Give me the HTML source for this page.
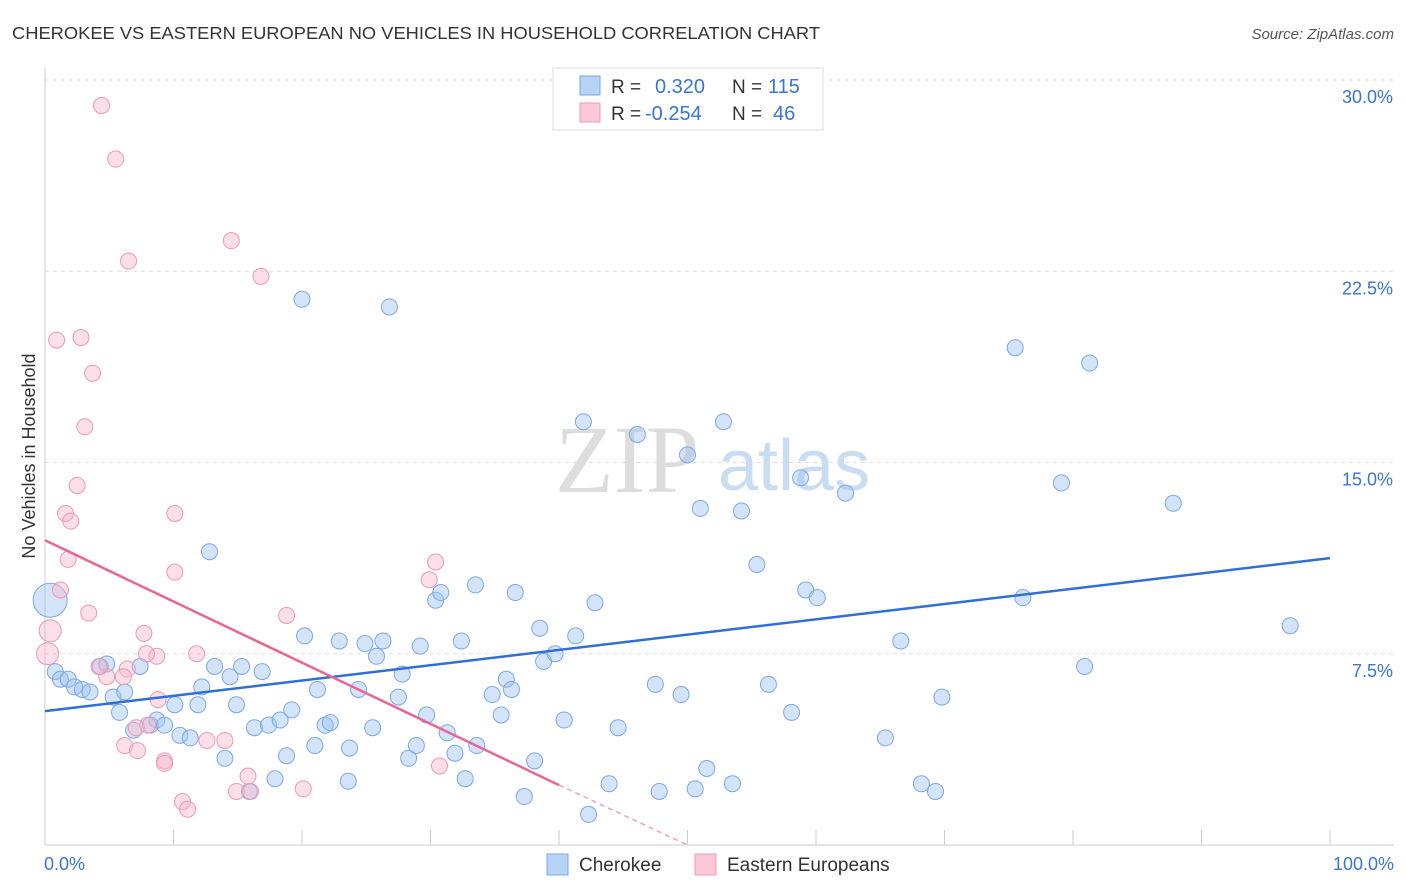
<!DOCTYPE html>
<html><head><meta charset="utf-8"><style>
body{margin:0;background:#fff;font-family:"Liberation Sans",sans-serif;}
svg{display:block}
</style></head><body>
<svg id="chart" width="1406" height="892" xmlns="http://www.w3.org/2000/svg">
<text x="12" y="39" font-size="17.5" fill="#333" textLength="808" lengthAdjust="spacingAndGlyphs">CHEROKEE VS EASTERN EUROPEAN NO VEHICLES IN HOUSEHOLD CORRELATION CHART</text>
<text x="1394" y="39" font-size="15" fill="#555" font-style="italic" text-anchor="end">Source: ZipAtlas.com</text>
<text x="35" y="456" font-size="18" fill="#333" text-anchor="middle" transform="rotate(-90 35 456)">No Vehicles in Household</text>
<text x="555" y="492" font-size="96" fill="#ddd" font-family="Liberation Serif">ZIP</text>
<text x="718" y="490" font-size="72" fill="#c8dcf4">atlas</text>
<g id="grid"></g><g id="pts"></g><g id="lines"></g>
<g>
<rect x="553" y="68" width="270" height="62" fill="#fff" stroke="#ddd"/>
<rect x="580" y="76" width="20" height="19" fill="#b8d4f5" stroke="#7aa8e6"/>
<rect x="580" y="103" width="20" height="19" fill="#fcc8d8" stroke="#f09ab8"/>
<text x="611" y="93" font-size="19" fill="#333">R = </text><text x="655" y="93" font-size="20" fill="#3a74d6">0.320</text>
<text x="732" y="93" font-size="19" fill="#333">N = </text><text x="768" y="93" font-size="20" fill="#3a74d6">115</text>
<text x="611" y="120" font-size="19" fill="#333">R = </text><text x="645" y="120" font-size="20" fill="#3a74d6">-0.254</text>
<text x="732" y="120" font-size="19" fill="#333">N = </text><text x="773" y="120" font-size="20" fill="#3a74d6">46</text>
</g>
<g>
<rect x="547" y="854" width="21" height="21" fill="#b8d4f5" stroke="#7aa8e6"/>
<text x="579" y="871" font-size="19" fill="#333">Cherokee</text>
<rect x="695" y="854" width="21" height="21" fill="#fcc8d8" stroke="#f09ab8"/>
<text x="727" y="871" font-size="19" fill="#333">Eastern Europeans</text>
</g>
<text x="44" y="870" font-size="18" fill="#3a74d6">0.0%</text>
<text x="1394" y="870" font-size="18" fill="#3a74d6" text-anchor="end">100.0%</text>
</svg>
<script>
const yTicks=[7.5,15,22.5,30];
const blueX=[0.8,1.2,1.8,2.3,2.9,3.5,4.3,4.8,5.3,5.8,6.2,7.4,6.9,8.2,8.7,9.3,10.1,10.5,11.3,11.9,12.2,12.8,13.2,14.0,14.4,14.9,15.3,15.9,16.3,16.9,17.4,17.9,18.3,18.8,19.2,20.0,20.2,21.0,21.2,21.8,22.2,22.9,23.6,23.7,24.4,24.9,25.5,25.8,26.3,26.8,27.5,27.8,28.3,28.9,29.2,29.7,30.4,30.8,31.3,31.9,32.4,32.7,33.5,33.6,34.8,35.5,35.9,36.3,36.6,37.3,38.1,38.5,38.8,39.7,40.4,41.3,41.9,42.3,42.8,43.9,44.6,46.1,47.5,47.8,49.5,50.0,50.6,51.0,51.5,52.8,53.5,54.2,55.4,56.3,58.1,58.8,59.2,60.1,62.3,65.4,66.6,68.2,69.3,69.8,75.5,76.1,79.1,80.9,81.3,87.8,96.9,0.4];
const blueY=[6.8,6.5,6.5,6.2,6.1,6.0,7.0,7.1,5.8,5.2,6.0,7.0,4.5,4.7,4.9,4.7,5.5,4.3,4.2,5.5,6.2,11.5,7.0,3.4,6.6,5.5,7.0,2.1,4.6,6.8,4.7,2.6,4.9,3.5,5.3,21.4,8.2,3.9,6.1,4.7,4.8,8.0,2.5,3.8,6.1,7.9,4.6,7.4,8.0,21.1,5.8,6.7,3.4,3.9,7.8,5.1,9.6,9.9,4.4,3.6,8.0,2.6,10.2,3.9,5.9,5.1,6.5,6.1,9.9,1.9,3.3,8.5,7.2,7.5,4.9,8.2,16.6,1.2,9.5,2.4,4.6,16.1,6.3,2.1,5.9,15.3,2.2,13.2,3.0,16.6,2.4,13.1,11.0,6.3,5.2,14.4,10.0,9.7,13.8,4.2,8.0,2.4,2.1,5.8,19.5,9.7,14.2,7.0,18.9,13.4,8.6,9.6];
const pinkX=[4.4,5.5,6.5,14.5,16.8,0.9,2.8,3.7,3.1,2.5,1.6,2.0,1.8,1.2,3.4,10.1,10.1,30.4,29.9,18.8,7.7,8.7,7.9,11.8,6.4,4.8,6.1,4.2,8.8,8.0,7.1,6.2,7.2,9.3,9.3,12.6,14.0,15.8,14.9,16.0,10.7,11.1,20.1,30.7,0.4,0.2];
const pinkY=[29.0,26.9,22.9,23.7,22.3,19.8,19.9,18.5,16.4,14.1,13.0,12.7,11.2,10.0,9.1,13.0,10.7,11.1,10.4,9.0,8.3,7.4,7.5,7.5,6.9,6.6,6.6,7.0,5.7,4.7,4.6,3.9,3.7,3.3,3.2,4.1,4.1,2.7,2.1,2.1,1.7,1.4,2.2,3.1,8.4,7.5];
const blueTrend=[0,5.25,100,11.25];
const pinkTrend=[0,11.95,40,2.35,50,0];
const NS="http://www.w3.org/2000/svg";
const sx=v=>45+v*12.85, sy=v=>845-v*25.5;
function mk(t,a,p){const e=document.createElementNS(NS,t);for(const k in a)e.setAttribute(k,a[k]);p.appendChild(e);return e;}
const grid=document.getElementById('grid');
mk('line',{x1:45,y1:68,x2:45,y2:845,stroke:'#ccc'},grid);
mk('line',{x1:45,y1:845,x2:1394,y2:845,stroke:'#ccc'},grid);
for(let i=0;i<=10;i++){const l=mk('line',{x1:sx(i*10),y1:830,x2:sx(i*10),y2:845,stroke:'#ccc'},grid);

}
yTicks.forEach(t=>{const l=mk('line',{x1:45,y1:sy(t),x2:1394,y2:sy(t),stroke:'#ddd','stroke-dasharray':'4,4'},grid);


const tx=mk('text',{x:1393,y:sy(t)+23,'font-size':18,fill:'#3a74d6','text-anchor':'end'},grid);tx.textContent=t.toFixed(1)+'%';

});
const pts=document.getElementById('pts');
blueX.forEach((x,i)=>{const c=mk('circle',{cx:sx(x),cy:sy(blueY[i]),r:i==blueX.length-1?17:8,fill:'rgba(160,196,240,0.45)',stroke:'#7aa8e6','stroke-width':1},pts);

});
pinkX.forEach((x,i)=>{const c=mk('circle',{cx:sx(x),cy:sy(pinkY[i]),r:i>=pinkX.length-2?11:8,fill:'rgba(248,184,204,0.45)',stroke:'#ec98b6','stroke-width':1},pts);

});
const lines=document.getElementById('lines');
let b=mk('line',{x1:sx(blueTrend[0]),y1:sy(blueTrend[1]),x2:sx(blueTrend[2]),y2:sy(blueTrend[3]),stroke:'#2f6fd6','stroke-width':2.5},lines);


let p=mk('line',{x1:sx(pinkTrend[0]),y1:sy(pinkTrend[1]),x2:sx(pinkTrend[2]),y2:sy(pinkTrend[3]),stroke:'#e86694','stroke-width':2.5},lines);


let pd=mk('line',{x1:sx(pinkTrend[2]),y1:sy(pinkTrend[3]),x2:sx(pinkTrend[4]),y2:sy(pinkTrend[5]),stroke:'#f0a0bc','stroke-width':1.5,'stroke-dasharray':'5,4'},lines);


</script>
</body></html>
